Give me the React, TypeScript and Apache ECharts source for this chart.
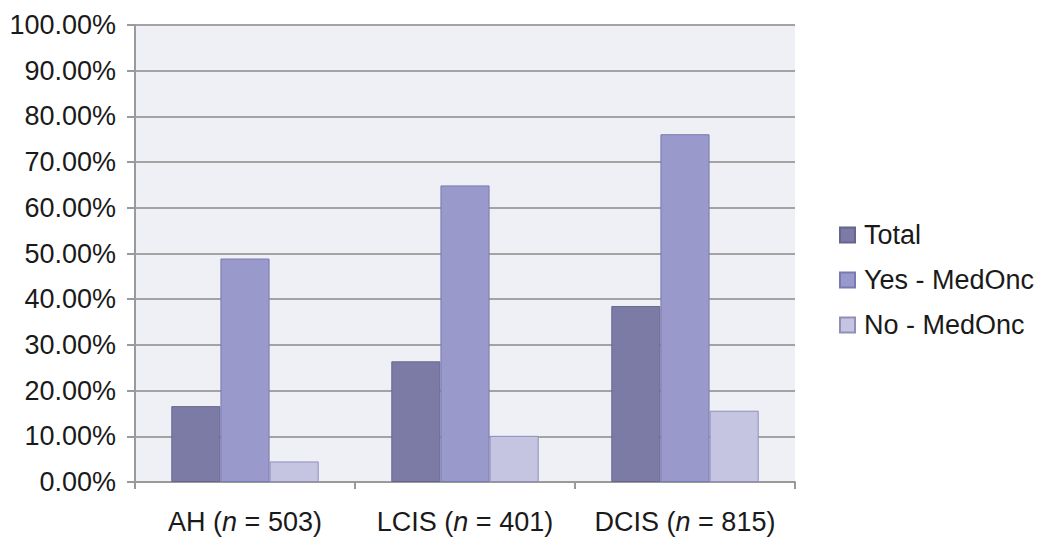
import React, { useEffect, useRef } from "react";
import * as echarts from "echarts";

const categories = ["AH", "LCIS", "DCIS"];
const sampleSizes = [503, 401, 815];
const seriesNames = ["Total", "Yes - MedOnc", "No - MedOnc"];
const totalValues = [16.6, 26.4, 38.5];
const yesMedOncValues = [48.9, 64.9, 76.1];
const noMedOncValues = [4.5, 10.1, 15.6];
const yTicks = [0, 10, 20, 30, 40, 50, 60, 70, 80, 90, 100];

const colors = ["#7b7ba6", "#9999cc", "#c5c5e2"];
const borders = ["#65658e", "#7a7ab0", "#8f8fba"];
const FONT = "Liberation Sans, Arial, Helvetica, sans-serif";

export default function App() {
  const ref = useRef<HTMLDivElement>(null);
  useEffect(() => {
    if (!ref.current) return;
    const chart = echarts.init(ref.current, null, { renderer: "svg" });
    const values = [totalValues, yesMedOncValues, noMedOncValues];
    const labels = categories.map((c, i) => `${c} ({i|n} = ${sampleSizes[i]})`);
    chart.setOption({
      animation: false,
      backgroundColor: "#ffffff",
      textStyle: { fontFamily: FONT },
      grid: {
        left: 135,
        right: 255,
        top: 25,
        bottom: 70,
        show: true,
        backgroundColor: "#eef0f5",
        borderWidth: 0,
      },
      legend: {
        orient: "vertical",
        left: 834,
        top: 216,
        itemWidth: 15,
        itemHeight: 15,
        itemGap: 17,
        icon: "rect",
        data: seriesNames,
        textStyle: {
          fontSize: 27,
          lineHeight: 28,
          color: "#1a1a1a",
          fontFamily: FONT,
          padding: [0, 0, 0, 4],
        },
      },
      xAxis: {
        type: "category",
        data: labels,
        axisLine: { lineStyle: { color: "#9a9a9a", width: 2 } },
        axisTick: { show: true, length: 7, lineStyle: { color: "#9a9a9a", width: 2 } },
        axisLabel: {
          interval: 0,
          fontSize: 27,
          color: "#1a1a1a",
          margin: 26,
          rich: {
            i: { fontSize: 27, fontStyle: "italic", color: "#1a1a1a", fontFamily: FONT },
          },
        },
      },
      yAxis: {
        type: "value",
        min: yTicks[0],
        max: yTicks[yTicks.length - 1],
        interval: 10,
        axisLine: { show: true, lineStyle: { color: "#9a9a9a", width: 2 } },
        axisTick: { show: true, length: 8, lineStyle: { color: "#9a9a9a", width: 2 } },
        axisLabel: {
          fontSize: 27,
          color: "#1a1a1a",
          margin: 19,
          formatter: (v: number) => v.toFixed(2) + "%",
        },
        splitLine: { show: true, lineStyle: { color: "#a3a3a3", width: 2 } },
      },
      series: seriesNames.map((name, s) => ({
        name,
        type: "bar",
        data: values[s],
        barGap: "0%",
        barCategoryGap: "33%",
        itemStyle: { color: colors[s], borderColor: borders[s], borderWidth: 1 },
      })),
    });
    return () => chart.dispose();
  }, []);
  return <div ref={ref} style={{ position: "fixed", left: 0, top: 0, width: 1050, height: 552 }} />;
}
